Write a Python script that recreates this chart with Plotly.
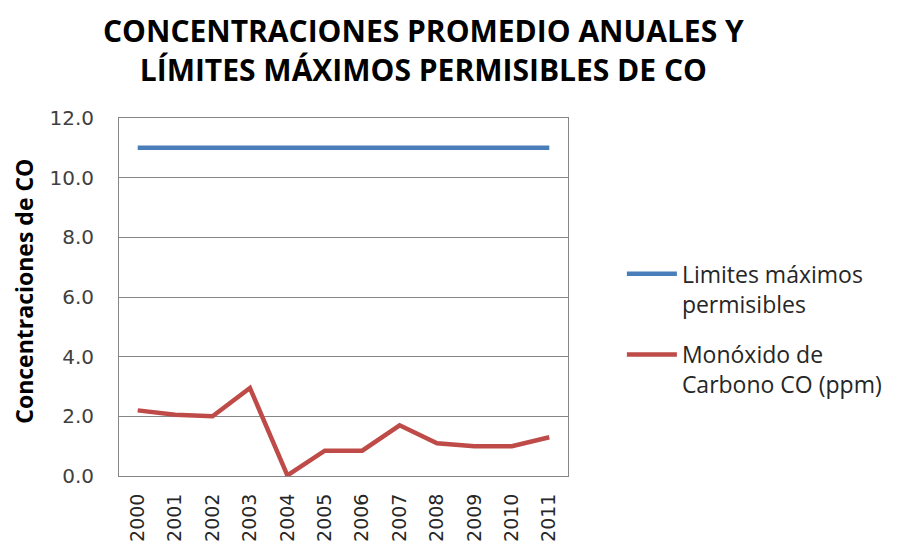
import plotly.graph_objects as go

years = ["2000","2001","2002","2003","2004","2005","2006","2007","2008","2009","2010","2011"]
limites = [11.0]*12
monoxido = [2.2, 2.05, 2.0, 2.95, 0.02, 0.85, 0.85, 1.7, 1.1, 1.0, 1.0, 1.3]

fig = go.Figure()
fig.add_trace(go.Scatter(x=years, y=limites, mode="lines", name="Limites máximos<br>permisibles",
                         legendgroup="g1", line=dict(color="#4A7EBB", width=4.5)))
fig.add_trace(go.Scatter(x=years, y=monoxido, mode="lines", name="Monóxido de<br>Carbono CO (ppm)",
                         legendgroup="g2", line=dict(color="#BE4B48", width=4.5)))

fig.update_layout(
    width=899, height=540,
    margin=dict(l=111, r=339, t=110, b=72, autoexpand=False),
    paper_bgcolor="white", plot_bgcolor="white",
    showlegend=True,
    legend=dict(x=1.12, xanchor="left", y=0.625, yanchor="top", valign="top",
                traceorder="grouped",
                font=dict(family="Open Sans", size=23, color="#262626"),
                tracegroupgap=18, itemwidth=50, bgcolor="rgba(0,0,0,0)"),
    font=dict(family="Lato", color="#262626"),
    annotations=[
        dict(text="<b>CONCENTRACIONES PROMEDIO ANUALES Y<br>LÍMITES MÁXIMOS PERMISIBLES DE CO</b>",
             xref="paper", yref="paper", x=0.679, y=1.305, xanchor="center", yanchor="top",
             showarrow=False, align="center", borderpad=0,
             font=dict(family="Open Sans", size=30, color="black")),
        dict(text="<b>Concentraciones de CO</b>", textangle=-90,
             xref="paper", yref="paper", x=-0.212, y=0.517, xanchor="center", yanchor="middle",
             showarrow=False, borderpad=0, font=dict(family="Open Sans", size=23, color="black")),
    ],
)
fig.update_xaxes(type="category", range=[-0.5, 11.5], tickangle=-90,
                 tickfont=dict(family="DejaVu Sans", size=19, color="#262626"),
                 showline=True, linecolor="#868686", linewidth=1, mirror=True, showgrid=False,
                 ticks="", ticklabelstandoff=9, automargin=False)
fig.update_yaxes(range=[0, 12], dtick=2, tickformat=".1f",
                 tickfont=dict(family="DejaVu Sans", size=20, color="#404040"),
                 showline=True, linecolor="#868686", linewidth=1, mirror=True,
                 showgrid=True, gridcolor="#868686", gridwidth=1, zeroline=False,
                 ticks="", ticklabelstandoff=20, automargin=False)

fig.write_html("out.html")
